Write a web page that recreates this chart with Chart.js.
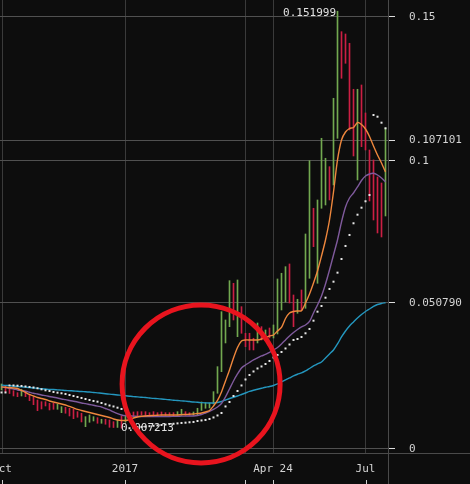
<!DOCTYPE html>
<html><head><meta charset="utf-8">
<script src="https://cdn.jsdelivr.net/npm/chart.js@4/dist/chart.umd.min.js"></script>
<style>html,body{margin:0;padding:0;background:#0d0d0d;overflow:hidden}canvas{display:block}</style>
</head><body><canvas id="c" width="470" height="484"></canvas>
<script>
// x ticks (in bar-index units) and their labels
const xTickPos = [0.125, 30.875, 60.875, 67.875, 91.0];
const xTickLabels = ['Oct', '2017', '', 'Apr 24', 'Jul'];
// y ticks and labels
const yTickValues = [0, 0.05079, 0.1, 0.107101, 0.15];
const yTickLabels = ['0', '0.050790', '0.1', '0.107101', '0.15'];

// 3-day bars: high / low / up(1) or down(0)
const barHigh = [
0.02257,0.02188,0.02118,0.02024,0.01955,0.02073,0.01979,0.01875,0.01795,0.01701, //0
0.01642,0.01642,0.01587,0.01587,0.01552,0.01469,0.01448,0.01413,0.01378,0.01295, //10
0.01240,0.01122,0.01181,0.01122,0.01087,0.01031,0.01031,0.01007,0.00948,0.01007, //20
0.01146,0.01146,0.01250,0.01285,0.01295,0.01295,0.01295,0.01260,0.01295,0.01260, //30
0.01285,0.01260,0.01260,0.01260,0.01295,0.01378,0.01295,0.01260,0.01285,0.01413, //40
0.01632,0.01608,0.01597,0.01990,0.02858,0.04767,0.04479,0.05844,0.05753,0.05868, //50
0.04941,0.04017,0.04017,0.03844,0.04375,0.04247,0.04132,0.04201,0.04306,0.05903, //60
0.06101,0.06330,0.06424,0.05347,0.05198,0.05521,0.07465,0.10010,0.08358,0.08646, //70
0.10788,0.10094,0.09802,0.12177,0.151999,0.14490,0.14410,0.14087,0.12490,0.12490, //80
0.12639,0.11667,0.10382,0.10035,0.09444,0.09236,0.11146]; //90
const barLow = [
0.02049,0.01979,0.01927,0.01840,0.01816,0.01840,0.01816,0.01677,0.01538,0.01330,
0.01389,0.01493,0.01354,0.01378,0.01378,0.01260,0.01240,0.01146,0.01052,0.01101,
0.00938,0.00774,0.00927,0.00972,0.00892,0.00892,0.00858,0.00753,0.00745,0.00747,
0.007213,0.00938,0.01076,0.01111,0.01146,0.01181,0.01146,0.01181,0.01181,0.01146,
0.01170,0.01170,0.01170,0.01146,0.01181,0.01170,0.01170,0.01170,0.01170,0.01181,
0.01337,0.01413,0.01424,0.01563,0.01934,0.02684,0.03681,0.04247,0.04479,0.03899,
0.04017,0.03552,0.03438,0.03438,0.03681,0.03785,0.03785,0.03854,0.03854,0.03993,
0.04826,0.05104,0.05069,0.04247,0.04712,0.04826,0.04885,0.05927,0.07024,0.05753,
0.08358,0.08472,0.08646,0.09167,0.10788,0.12872,0.13392,0.11076,0.10174,0.09340,
0.10497,0.10382,0.08611,0.07951,0.07500,0.07361,0.08090];
const barUp = [
1,0,0,0,0,1,0,0,0,0,
0,0,0,0,1,1,0,0,0,0,
0,1,1,1,0,1,0,0,0,1,
0,1,0,0,0,0,0,0,0,0,
0,0,0,0,1,1,0,0,1,1,
1,1,1,1,1,1,1,1,0,1,
0,0,0,0,1,0,1,0,1,1,
1,1,0,0,1,0,1,1,0,1,
1,1,0,1,1,0,0,0,0,1,
0,0,0,0,0,0,1];

// moving averages (fast orange, medium purple, slow cyan)
const maFast = [
0.02153,0.02142,0.02128,0.02118,0.02101,0.02031,0.01962,0.01892,0.01840,0.01788,
0.01753,0.01719,0.01667,0.01632,0.01597,0.01563,0.01528,0.01476,0.01424,0.01372,
0.01337,0.01302,0.01267,0.01233,0.01198,0.01163,0.01128,0.01094,0.01042,0.01007,
0.00990,0.00990,0.01024,0.01076,0.01111,0.01135,0.01146,0.01156,0.01163,0.01170,
0.01181,0.01181,0.01181,0.01181,0.01181,0.01191,0.01198,0.01208,0.01215,0.01233,
0.01250,0.01285,0.01337,0.01493,0.01684,0.01979,0.02361,0.02743,0.03160,0.03524,
0.03750,0.03785,0.03785,0.03785,0.03785,0.03819,0.03872,0.03924,0.03958,0.04097,
0.04219,0.04531,0.04722,0.04774,0.04792,0.04802,0.05069,0.05382,0.05764,0.06181,
0.06701,0.07257,0.07951,0.08924,0.10035,0.10729,0.11007,0.11128,0.11163,0.11337,
0.11267,0.11111,0.10851,0.10521,0.10208,0.09931,0.09618];
const maMid = [
0.02163,0.02135,0.02108,0.02083,0.02049,0.02031,0.02003,0.01969,0.01934,0.01910,
0.01875,0.01851,0.01823,0.01795,0.01771,0.01736,0.01712,0.01684,0.01656,0.01632,
0.01597,0.01573,0.01545,0.01517,0.01486,0.01458,0.01406,0.01354,0.01285,0.01226,
0.01181,0.01156,0.01146,0.01139,0.01132,0.01128,0.01125,0.01125,0.01125,0.01125,
0.01125,0.01128,0.01128,0.01132,0.01135,0.01139,0.01142,0.01146,0.01146,0.01163,
0.01198,0.01250,0.01302,0.01372,0.01458,0.01580,0.01806,0.02083,0.02361,0.02604,
0.02813,0.02917,0.03003,0.03090,0.03160,0.03229,0.03281,0.03351,0.03438,0.03524,
0.03646,0.03785,0.03924,0.04045,0.04149,0.04236,0.04306,0.04427,0.04722,0.05000,
0.05313,0.05729,0.06215,0.06736,0.07257,0.07882,0.08403,0.08715,0.08889,0.09097,
0.09323,0.09479,0.09549,0.09573,0.09514,0.09410,0.09271];
const maSlow = [
0.02222,0.02208,0.02198,0.02184,0.02170,0.02156,0.02146,0.02132,0.02118,0.02104,
0.02090,0.02080,0.02069,0.02063,0.02052,0.02042,0.02031,0.02024,0.02014,0.02003,
0.01993,0.01986,0.01976,0.01962,0.01948,0.01934,0.01917,0.01903,0.01889,0.01875,
0.01861,0.01847,0.01833,0.01819,0.01809,0.01795,0.01785,0.01771,0.01757,0.01747,
0.01733,0.01722,0.01708,0.01694,0.01684,0.01670,0.01660,0.01646,0.01632,0.01622,
0.01608,0.01601,0.01597,0.01597,0.01615,0.01649,0.01701,0.01753,0.01795,0.01840,
0.01892,0.01944,0.01997,0.02038,0.02073,0.02108,0.02142,0.02170,0.02205,0.02257,
0.02326,0.02396,0.02465,0.02535,0.02594,0.02639,0.02708,0.02795,0.02882,0.02951,
0.03021,0.03160,0.03299,0.03438,0.03646,0.03889,0.04097,0.04271,0.04410,0.04549,
0.04670,0.04774,0.04861,0.04948,0.05017,0.05050,0.05079];
// parabolic SAR dots
const sar = [
0.01962,0.01962,0.02205,0.02205,0.02198,0.02188,0.02170,0.02153,0.02135,0.02108,
0.02073,0.02038,0.02014,0.01979,0.01955,0.01934,0.01910,0.01875,0.01840,0.01806,
0.01771,0.01736,0.01701,0.01667,0.01642,0.01597,0.01552,0.01510,0.01476,0.01434,
0.01389,0.01344,0.00721,0.00736,0.00750,0.00764,0.00778,0.00792,0.00806,0.00819,
0.00833,0.00847,0.00861,0.00875,0.00889,0.00903,0.00913,0.00927,0.00938,0.00972,
0.00990,0.01007,0.01042,0.01094,0.01163,0.01250,0.01476,0.01632,0.01840,0.02014,
0.02205,0.02413,0.02569,0.02691,0.02795,0.02865,0.02951,0.03056,0.03177,0.03264,
0.03368,0.03490,0.03628,0.03785,0.03819,0.03889,0.04017,0.04167,0.04455,0.04767,
0.04965,0.05253,0.05556,0.05809,0.06122,0.06597,0.07049,0.07431,0.07837,0.08135,
0.08378,0.08601,0.08819,0.11597,0.11538,0.11330,0.11135];

const FONT = 'DejaVu Sans Mono';
const toXY = arr => arr.map((v, i) => ({x: i, y: v}));

const overlay = {
  id: 'overlay',
  beforeDatasetsDraw(chart) {
    const {ctx, chartArea: a, width, height} = chart;
    const xs = chart.scales.x;
    ctx.save();
    ctx.lineWidth = 1;
    ctx.strokeStyle = '#4a4a4a';
    ctx.beginPath();
    ctx.moveTo(0, Math.round(a.bottom) + 0.5); ctx.lineTo(width, Math.round(a.bottom) + 0.5);
    ctx.moveTo(Math.round(a.right) + 0.5, 0); ctx.lineTo(Math.round(a.right) + 0.5, height);
    ctx.stroke();
    ctx.strokeStyle = '#cfcfcf';
    ctx.beginPath();
    xTickPos.forEach(v => {
      const p = Math.round(xs.getPixelForValue(v)) + 0.5;
      ctx.moveTo(p, height - 4); ctx.lineTo(p, height);
    });
    ctx.stroke();
    ctx.restore();
  },
  afterDraw(chart) {
    const {ctx} = chart;
    const xs = chart.scales.x, ys = chart.scales.y;
    const iMax = barHigh.indexOf(Math.max(...barHigh));
    const iMin = barLow.indexOf(Math.min(...barLow));
    ctx.save();
    ctx.font = '11px "' + FONT + '"';
    ctx.fillStyle = '#e2e2e2';
    ctx.textBaseline = 'middle';
    ctx.textAlign = 'right';
    ctx.fillText(barHigh[iMax].toFixed(6), xs.getPixelForValue(iMax) - 1.5, ys.getPixelForValue(barHigh[iMax]) + 1.5);
    ctx.textAlign = 'left';
    ctx.fillText(barLow[iMin].toFixed(6), xs.getPixelForValue(iMin) - 0.5, ys.getPixelForValue(barLow[iMin]));
    // red circle annotation
    const o = chart.options.plugins.overlay;
    ctx.beginPath();
    ctx.arc(xs.getPixelForValue(o.cx), ys.getPixelForValue(o.cy), o.r, 0, Math.PI * 2);
    ctx.strokeStyle = '#e8141e';
    ctx.lineWidth = 5;
    ctx.stroke();
    ctx.restore();
  }
};

new Chart(document.getElementById('c'), {
  type: 'bar',
  data: {
    datasets: [
      {type: 'line', data: toXY(sar), showLine: false, pointStyle: 'rect', pointRadius: 1.42,
       pointBackgroundColor: '#e6e6e6', pointBorderWidth: 0, order: 1},
      {type: 'line', data: toXY(maFast), borderColor: '#ee873d', borderWidth: 1.4, pointRadius: 0, tension: 0.25, order: 2},
      {type: 'line', data: toXY(maMid), borderColor: '#7f5a9c', borderWidth: 1.4, pointRadius: 0, tension: 0.25, order: 3},
      {type: 'line', data: toXY(maSlow), borderColor: '#2497bf', borderWidth: 1.4, pointRadius: 0, tension: 0.25, order: 4},
      {type: 'bar', data: barHigh.map((h, i) => ({x: i, y: [barLow[i], h]})),
       backgroundColor: barUp.map(u => u ? '#72a850' : '#cc1f44'), barThickness: 1, borderWidth: 0, order: 5}
    ]
  },
  options: {
    responsive: false, maintainAspectRatio: false, animation: false, devicePixelRatio: 1,
    layout: {padding: 0, autoPadding: false},
    plugins: {legend: {display: false}, tooltip: {enabled: false}, overlay: {cx: 49.9, cy: 0.02257, r: 79}},
    scales: {
      x: {
        type: 'linear', min: -0.375, max: 96.625, offset: false,
        afterBuildTicks: s => { s.ticks = xTickPos.map(v => ({value: v})); },
        afterFit: s => { s.height = 31; s.paddingLeft = 0; s.paddingRight = 0; },
        grid: {color: '#3a3a3a', drawTicks: false, offset: false},
        border: {display: false},
        ticks: {autoSkip: false, maxRotation: 0, padding: 10, color: '#d4d4d4',
                font: {family: FONT, size: 11}, callback: (v, idx) => xTickLabels[idx]}
      },
      y: {
        type: 'linear', position: 'right', min: -0.0014, max: 0.1559,
        afterBuildTicks: s => { s.ticks = yTickValues.map(v => ({value: v})); },
        afterFit: s => { s.width = 82; s.paddingTop = 0; s.paddingBottom = 0; },
        grid: {color: '#505050', tickColor: '#dcdcdc', tickLength: 7},
        border: {display: false},
        ticks: {padding: 14, color: '#d4d4d4', font: {family: FONT, size: 11},
                callback: (v, idx) => yTickLabels[idx]}
      }
    }
  },
  plugins: [overlay]
});
</script></body></html>
